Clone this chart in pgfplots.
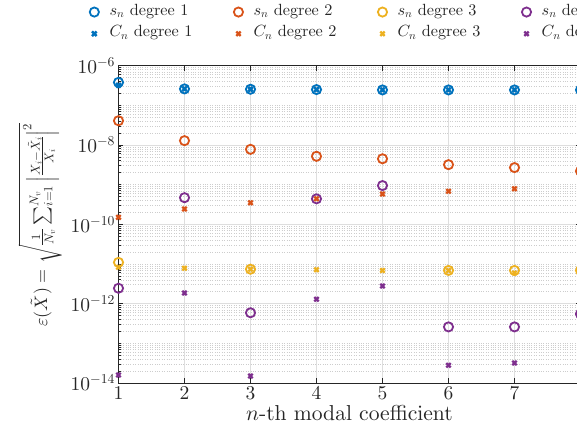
\documentclass[border=0pt]{standalone}
\usepackage[OT1]{fontenc}
\renewcommand{\rmdefault}{cmr}
\DeclareFontShape{OT1}{cmr}{m}{n}{<-> cmr10}{}
\DeclareFontShape{OML}{cmm}{m}{it}{<-> cmmi10}{}
\DeclareFontShape{OMS}{cmsy}{m}{n}{<-> cmsy10}{}
\DeclareFontShape{OMX}{cmex}{m}{n}{<-> cmex10}{}
\usepackage{pgfplots}
\pgfplotsset{compat=1.18}
\usetikzlibrary{calc}
\definecolor{mblue}{RGB}{0,114,189}
\definecolor{morange}{RGB}{217,83,25}
\definecolor{myellow}{RGB}{237,177,32}
\definecolor{mpurple}{RGB}{126,47,142}
\definecolor{axgray}{RGB}{38,38,38}
\definecolor{gridgray}{RGB}{222,222,222}
\definecolor{mgridgray}{RGB}{205,205,205}
\begin{document}
\begin{tikzpicture}
\begin{axis}[
  scale only axis,
  width=462pt, height=317.3pt,
  xmin=1, xmax=8, ymin=1e-14, ymax=1e-6,
  ymode=log,
  xtick={1,2,3,4,5,6,7,8},
  xticklabels={1,2,3,4,5,6,7,{}},
  ytick={1e-14,1e-12,1e-10,1e-8,1e-6},
  minor ytick={2e-14,3e-14,4e-14,5e-14,6e-14,7e-14,8e-14,9e-14,1e-13,
    2e-13,3e-13,4e-13,5e-13,6e-13,7e-13,8e-13,9e-13,
    2e-12,3e-12,4e-12,5e-12,6e-12,7e-12,8e-12,9e-12,1e-11,
    2e-11,3e-11,4e-11,5e-11,6e-11,7e-11,8e-11,9e-11,
    2e-10,3e-10,4e-10,5e-10,6e-10,7e-10,8e-10,9e-10,1e-9,
    2e-9,3e-9,4e-9,5e-9,6e-9,7e-9,8e-9,9e-9,
    2e-8,3e-8,4e-8,5e-8,6e-8,7e-8,8e-8,9e-8,1e-7,
    2e-7,3e-7,4e-7,5e-7,6e-7,7e-7,8e-7,9e-7},
  tick align=inside,
  major tick length=5pt, minor tick length=3pt,
  axis line style={axgray, line width=0.8pt},
  every tick/.style={axgray, line width=0.8pt},
  grid=both,
  xminorgrids=false,
  major grid style={gridgray, line width=0.8pt},
  minor grid style={mgridgray, dotted, line width=0.6pt},
  tick label style={font=\fontsize{19.5}{23}\selectfont, text=axgray},
  xlabel style={font=\fontsize{21.6}{26}\selectfont, text=axgray},
  ylabel style={font=\fontsize{18}{22}\selectfont, text=axgray, at={(rel axis cs:-0.1223,0.498)}, anchor=south, inner sep=0pt},
  xlabel={$n$-th modal coefficient},
  ylabel={$\varepsilon(\tilde{X})=\sqrt{\frac{1}{N_v}\sum_{i=1}^{N_v}\left|\frac{X_i-\tilde{X}_i}{X_i}\right|^2}$},
  clip=false,
  legend columns=4,
  legend cell align=left,
  legend image code/.code={\path (-35pt,0pt) (12pt,0pt); \draw[mark repeat=2,mark phase=2] plot coordinates {(-1pt,0pt)(0pt,0pt)(1pt,0pt)};},
  legend style={draw=none, fill=none, at={(rel axis cs:-0.1297,1.2039)}, anchor=north west, xshift=-0.7pt,
    inner sep=0pt, row sep=0pt,
    nodes={inner xsep=2pt, inner ysep=0pt, font=\fontsize{16.2}{19}\selectfont, text=axgray, text height=14pt, text depth=7.7pt},
    /tikz/every even column/.append style={column sep=7.9pt}},
]
% s_n
\addplot[only marks, mark=o, mark size=4.6pt, line width=1.8pt, color=mblue]
  coordinates {(1,3.8e-7)(2,2.6e-7)(3,2.55e-7)(4,2.5e-7)(5,2.45e-7)(6,2.45e-7)(7,2.45e-7)(8,2.45e-7)};
\addlegendentry{$s_n$ degree 1}
\addplot[only marks, mark=o, mark size=4.6pt, line width=1.8pt, color=morange]
  coordinates {(1,4.1e-8)(2,1.29e-8)(3,7.8e-9)(4,5.2e-9)(5,4.5e-9)(6,3.2e-9)(7,2.7e-9)(8,2.2e-9)};
\addlegendentry{$s_n$ degree 2}
\addplot[only marks, mark=o, mark size=4.6pt, line width=1.8pt, color=myellow]
  coordinates {(1,1.1e-11)(3,7.4e-12)(6,6.9e-12)(7,6.9e-12)(8,6.9e-12)};
\addlegendentry{$s_n$ degree 3}
\addplot[only marks, mark=o, mark size=4.6pt, line width=1.8pt, color=mpurple]
  coordinates {(1,2.45e-12)(2,4.7e-10)(3,5.9e-13)(4,4.4e-10)(5,9.5e-10)(6,2.6e-13)(7,2.6e-13)(8,5.5e-13)};
\addlegendentry{$s_n$ degree 4}
% C_n
\addplot[only marks, mark=x, mark size=3.3pt, line width=2.5pt, color=mblue]
  coordinates {(1,3.2e-7)(2,2.6e-7)(3,2.55e-7)(4,2.5e-7)(5,2.45e-7)(6,2.45e-7)(7,2.45e-7)(8,2.45e-7)};
\addlegendentry{$C_n$ degree 1}
\addplot[only marks, mark=x, mark size=3.1pt, line width=2.3pt, color=morange]
  coordinates {(1,1.5e-10)(2,2.45e-10)(3,3.5e-10)(4,4.4e-10)(5,5.8e-10)(6,6.8e-10)(7,7.9e-10)(8,9e-10)};
\addlegendentry{$C_n$ degree 2}
\addplot[only marks, mark=x, mark size=3.1pt, line width=2.3pt, color=myellow]
  coordinates {(1,8.3e-12)(2,7.8e-12)(3,7.4e-12)(4,7.2e-12)(5,6.9e-12)(6,6.9e-12)(7,5.9e-12)(8,6e-12)};
\addlegendentry{$C_n$ degree 3}
\addplot[only marks, mark=x, mark size=3.1pt, line width=2.3pt, color=mpurple]
  coordinates {(1,1.6e-14)(2,1.86e-12)(3,1.5e-14)(4,1.3e-12)(5,2.8e-12)(6,2.8e-14)(7,3.2e-14)(8,3.5e-14)};
\addlegendentry{$C_n$ degree 4}
\end{axis}
\pgfresetboundingbox
\useasboundingbox ($(current axis.south west)+(-118.5pt,-58pt)$) rectangle ($(current axis.south west)+(458.5pt,383pt)$);
\end{tikzpicture}
\end{document}
